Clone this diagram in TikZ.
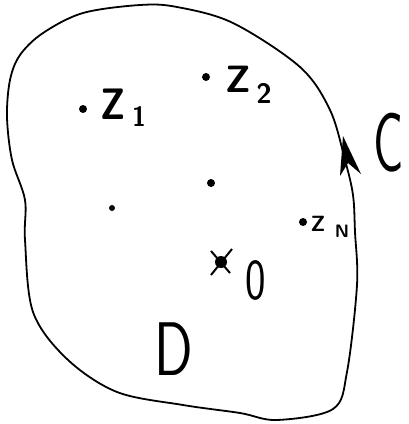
\documentclass[tikz,border=0pt]{standalone}
\usetikzlibrary{calc}
\begin{document}
\begin{tikzpicture}[x=1pt,y=-1pt,
  dotpt/.style={circle,fill=black,inner sep=0pt,minimum size=8pt},
  lbl/.style={inner sep=0pt,anchor=center,font=\sffamily},
  outline/.style={line width=1.8pt,line join=round}]
\useasboundingbox (0,0) rectangle (408,424);
% region boundary C
\draw[outline] plot[smooth cycle,tension=0.55] coordinates {
 (140,5) (83,13) (43,33) (20,55) (10,80) (7,117) (12,160) (25,200) (25,240)
 (33,312) (67,359) (117,392) (183,405) (240,413) (277,420) (333,409)
 (347,372) (357,285) (355,232) (353,195) (345,160) (330,110) (300,67)
 (233,23) (177,7)};
% arrowhead on C
\fill (343,136) -- (340,176) -- (348,163) -- (361,174) -- cycle;
% points
\node[dotpt] (p1) at (83,109) {};
\node[dotpt] (p2) at (206,77) {};
\node[dotpt] (pc) at (211,183) {};
\node[dotpt,minimum size=6pt] (pl) at (112,208) {};
\node[dotpt] (pn) at (303,222) {};
% labels
\node[lbl,font=\sffamily\bfseries\fontsize{44}{44}\selectfont,xscale=0.85] (z1) at (113,104) {Z};
\node[lbl,font=\sffamily\bfseries\fontsize{28}{28}\selectfont,xscale=0.9] (s1) at (139,116) {1};
\node[lbl,font=\sffamily\bfseries\fontsize{38}{38}\selectfont] (z2) at (238,79) {Z};
\node[lbl,font=\sffamily\bfseries\fontsize{28}{28}\selectfont] (s2) at (264,93) {2};
\node[lbl,font=\sffamily\bfseries\fontsize{22}{22}\selectfont] (zn) at (318,224) {Z};
\node[lbl,font=\sffamily\bfseries\fontsize{18}{18}\selectfont] (sn) at (342,231) {N};
\node[lbl,font=\sffamily\fontsize{84}{84}\selectfont,xscale=0.6] (c) at (389,143) {C};
\node[lbl,font=\sffamily\fontsize{58}{58}\selectfont,xscale=0.75] (o) at (256,280) {0};
\node[lbl,font=\sffamily\fontsize{76}{76}\selectfont,xscale=0.75] (d) at (174,349) {D};
% origin marker
\coordinate (x0) at (221,262);
\draw[line width=2pt] ($(x0)+(-10,-11)$) -- ($(x0)+(9,11)$);
\draw[line width=2pt] ($(x0)+(11,-13)$) -- ($(x0)+(-10,13)$);
\fill (x0) circle (6pt);
\end{tikzpicture}
\end{document}
